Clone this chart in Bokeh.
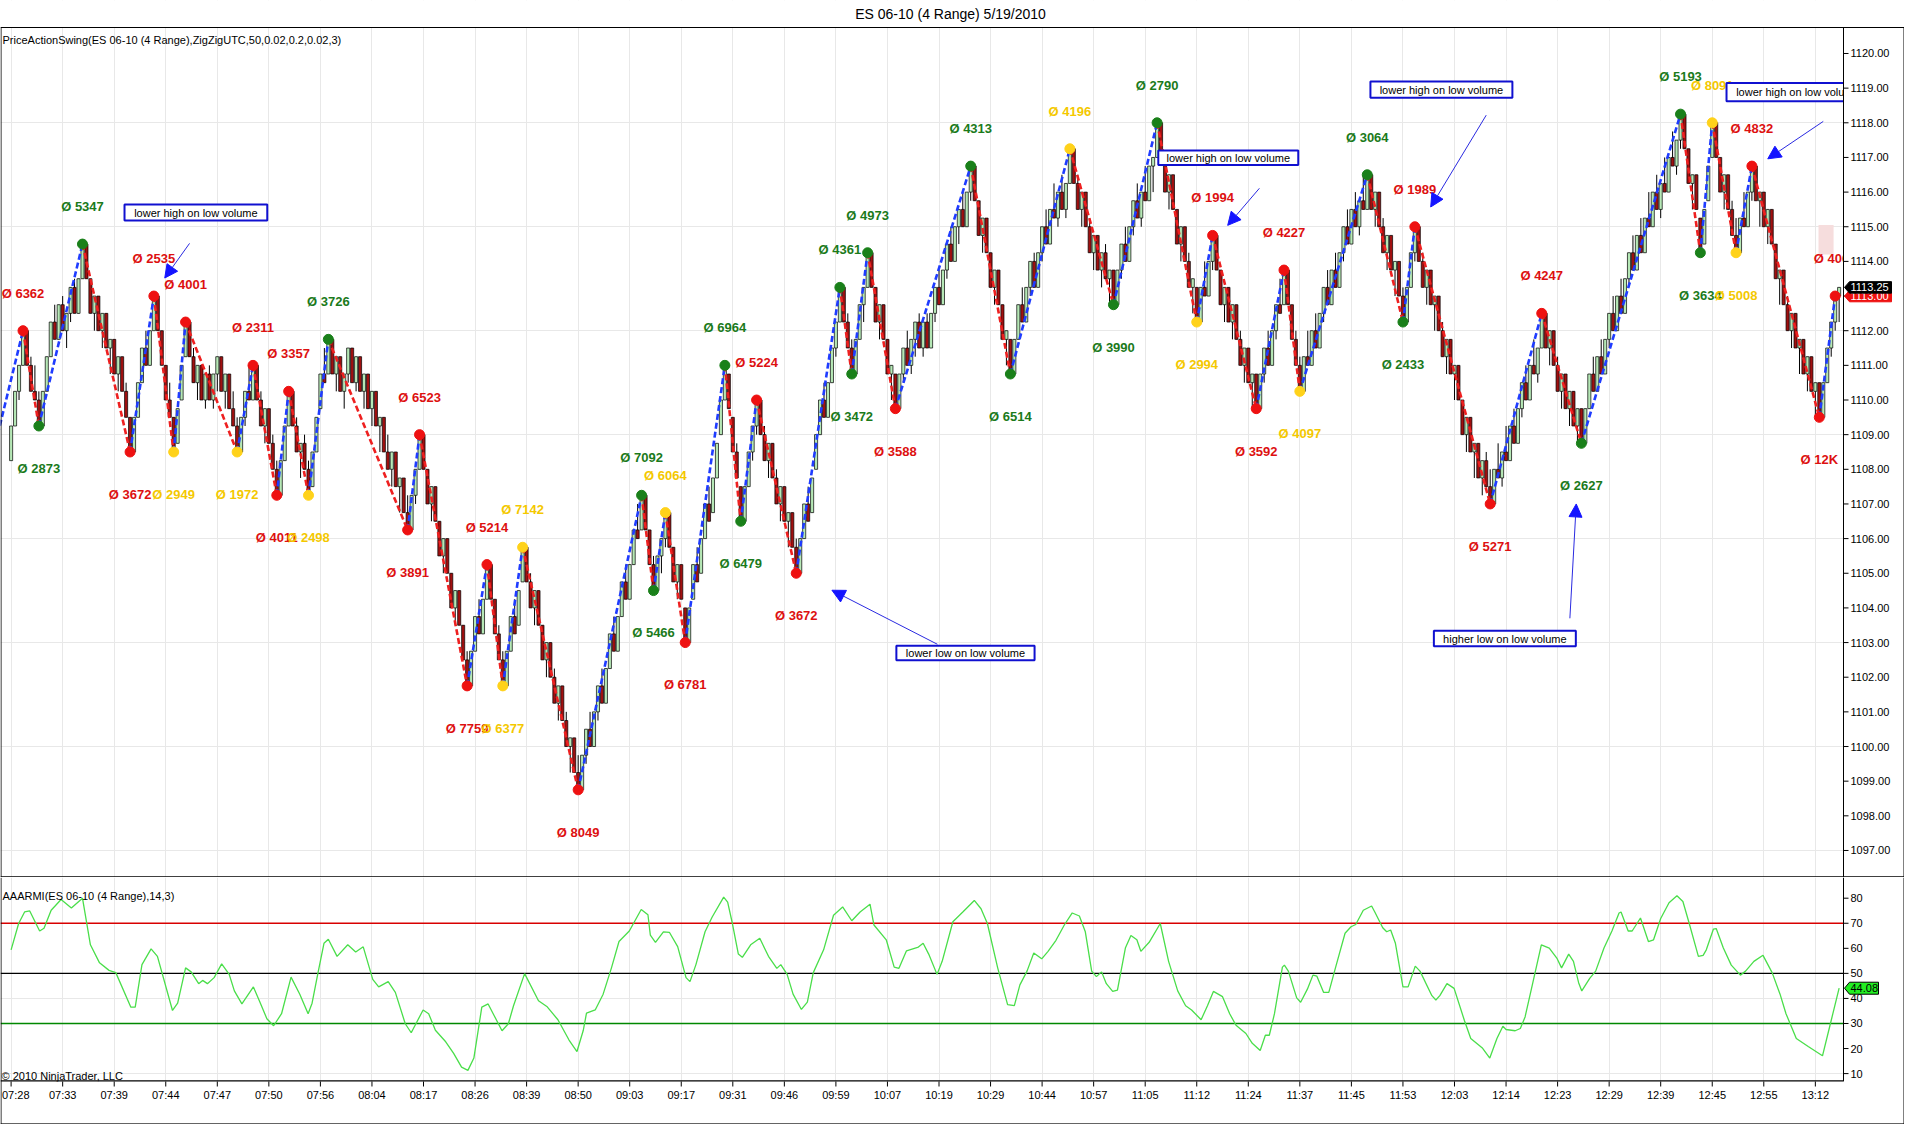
from bokeh.plotting import figure
from bokeh.layouts import column
from bokeh.models import (Range1d, FixedTicker, Grid, Arrow, NormalHead, ColumnDataSource)
from bokeh.core.properties import value
from bokeh.embed import file_html
from bokeh.resources import INLINE

FONT = "Liberation Sans"

# ---------------- data ----------------
TITLE = "ES 06-10 (4 Range)  5/19/2010"
PRICE_STUDY = "PriceActionSwing(ES 06-10 (4 Range),ZigZigUTC,50,0.02,0.2,0.02,3)"
RSI_STUDY = "AAARMI(ES 06-10 (4 Range),14,3)"
COPYRIGHT = "\u00a9 2010 NinjaTrader, LLC"

time_labels = ["07:28", "07:33", "07:39", "07:44", "07:47", "07:50", "07:56", "08:04",
               "08:17", "08:26", "08:39", "08:50", "09:03", "09:17", "09:31", "09:46",
               "09:59", "10:07", "10:19", "10:29", "10:44", "10:57", "11:05", "11:12",
               "11:24", "11:37", "11:45", "11:53", "12:03", "12:14", "12:23", "12:29",
               "12:39", "12:45", "12:55", "13:12"]
bars_per_label = 13

bar_range = 1.0          # 4 ticks of 0.25
first_open = 1108.25
bar_close = [
    1109.25, 1110.25, 1111.0, 1112.0,
    1111.0, 1110.25, 1110.0, 1109.25,
    1110.25, 1111.25, 1112.25, 1111.75, 1112.75, 1112.0, 1112.5, 1113.25, 1112.5, 1113.5, 1114.5,
    1113.5, 1112.5, 1113.0, 1112.0, 1112.5, 1111.5, 1111.75, 1110.75, 1111.25, 1110.25, 1109.5, 1108.5,
    1109.5, 1110.5, 1111.5, 1111.0, 1112.0, 1113.0,
    1112.0, 1111.0, 1110.0, 1109.5, 1108.5,
    1109.75, 1111.0, 1112.25,
    1111.25, 1110.5, 1111.0, 1110.0, 1110.75, 1110.0, 1110.75, 1111.25, 1110.25, 1110.75, 1109.75, 1109.25, 1108.5,
    1109.5, 1110.25, 1110.0, 1111.0,
    1110.0, 1109.25, 1109.75, 1108.75, 1108.0, 1107.25,
    1108.25, 1109.25, 1110.25,
    1109.25, 1108.5, 1108.75, 1108.0, 1107.25,
    1108.5, 1109.5, 1110.75, 1110.5, 1111.75,
    1110.75, 1111.25, 1110.25, 1110.75, 1111.5, 1110.5, 1111.25, 1110.25, 1110.75, 1109.75,
    1110.25, 1109.25, 1109.5, 1108.5, 1108.0, 1108.5, 1107.5, 1107.75, 1106.75, 1106.25,
    1107.25, 1108.0, 1109.0,
    1108.0, 1107.0, 1107.5, 1106.5, 1105.5, 1106.0, 1105.0, 1104.0, 1104.5, 1103.5, 1102.5, 1101.75,
    1102.75, 1103.75, 1103.25, 1104.25, 1105.25,
    1104.25, 1103.25, 1102.5, 1101.75,
    1102.75, 1103.75, 1103.25, 1104.5, 1105.75,
    1104.75, 1104.0, 1104.5, 1103.5, 1102.5, 1103.0, 1102.0, 1101.25, 1101.75, 1100.75, 1100.0, 1100.25, 1099.25, 1098.75,
    1099.75, 1100.5, 1100.0, 1101.0, 1101.75, 1101.25, 1102.25, 1103.25, 1102.75, 1103.75, 1104.75, 1104.25, 1105.25, 1106.25, 1106.0, 1107.25,
    1106.25, 1105.25, 1104.5,
    1105.5, 1106.0, 1106.75,
    1105.75, 1104.75, 1105.25, 1104.25, 1103.0,
    1104.0, 1105.25, 1104.75, 1106.0, 1107.0, 1106.5, 1107.75, 1108.75, 1110.0, 1111.0,
    1109.75, 1108.5, 1107.75, 1106.5,
    1107.5, 1108.5, 1109.25, 1110.0,
    1109.0, 1108.25, 1108.75, 1107.75, 1107.0, 1107.5, 1106.5, 1106.75, 1105.75, 1105.0,
    1106.0, 1107.0, 1106.5, 1107.75, 1109.0, 1110.0, 1109.5, 1110.5, 1111.5, 1112.25, 1113.25,
    1112.25, 1111.5, 1110.75,
    1111.75, 1112.75, 1113.25, 1114.25,
    1113.25, 1112.25, 1112.75, 1111.75, 1110.75, 1111.0, 1109.75,
    1110.75, 1111.5, 1111.0, 1111.75, 1112.25, 1111.5, 1112.25, 1111.5, 1112.5, 1113.25,
    1112.75, 1113.75, 1114.5, 1114.0, 1115.0, 1115.5, 1115.0, 1116.0, 1116.75,
    1115.75, 1114.75, 1115.25, 1114.25, 1113.25, 1113.75, 1112.75, 1111.75, 1112.0, 1110.75,
    1111.75, 1112.75, 1112.25, 1113.25, 1114.0, 1113.25, 1114.25, 1115.0, 1114.5, 1115.5,
    1115.25, 1116.0, 1115.5, 1116.25, 1117.25,
    1116.25, 1115.5, 1116.0, 1115.0, 1114.25, 1114.75, 1113.75, 1114.25, 1113.5, 1113.75, 1112.75,
    1113.75, 1114.5, 1114.0, 1115.0, 1115.75, 1115.25, 1116.0, 1115.75, 1116.75, 1117.0, 1118.0,
    1117.0, 1116.0, 1116.5, 1115.5, 1114.5, 1115.0, 1114.0, 1113.25, 1113.5, 1112.25,
    1113.25, 1113.0, 1114.0, 1114.75,
    1113.75, 1112.75, 1113.25, 1112.25, 1112.75, 1111.75, 1111.0, 1111.5, 1110.5, 1110.75, 1109.75,
    1110.75, 1111.5, 1111.0, 1112.0, 1112.75, 1112.5, 1113.75,
    1112.75, 1111.75, 1111.0, 1110.25,
    1111.25, 1111.0, 1112.0, 1111.5, 1112.5, 1113.25, 1112.75, 1113.75, 1113.25, 1114.25,
    1115.0, 1114.5, 1115.5, 1115.0, 1115.75, 1115.5, 1116.5,
    1115.5, 1116.0, 1115.0, 1114.25, 1114.75, 1113.75, 1114.0, 1113.0, 1112.25,
    1113.25, 1114.25, 1115.0,
    1114.0, 1113.25, 1113.75, 1112.75, 1113.0, 1112.0, 1111.25, 1111.75, 1110.75, 1111.0,
    1110.0, 1109.0, 1109.5, 1108.5, 1108.75, 1107.75, 1108.25, 1107.5, 1107.0,
    1108.0, 1107.75, 1108.5, 1108.25, 1109.25, 1108.75, 1109.75, 1110.5, 1110.0, 1111.0,
    1110.75, 1111.5, 1112.5,
    1111.5, 1112.0, 1111.0, 1110.25, 1110.75, 1109.75, 1110.25, 1109.25, 1109.75, 1108.75,
    1109.75, 1110.75, 1110.25, 1111.25, 1110.75, 1111.75, 1112.5, 1112.0, 1113.0, 1112.5,
    1113.5, 1114.25, 1113.75, 1114.75, 1114.25, 1115.25, 1115.0, 1116.0, 1115.5, 1116.25,
    1116.0, 1117.0, 1116.75, 1117.5, 1118.25,
    1117.25, 1116.25, 1116.5, 1115.5, 1114.25,
    1115.5, 1116.75, 1118.0,
    1117.0, 1116.0, 1116.5, 1115.5, 1114.75, 1114.25,
    1115.25, 1115.0, 1116.0, 1116.75,
    1115.75, 1116.0, 1115.0, 1115.5, 1114.5, 1113.5, 1113.75, 1112.75, 1112.0, 1112.5,
    1111.5, 1111.75, 1110.75, 1111.25, 1110.25, 1110.5, 1109.5,
    1110.5, 1111.5, 1112.25, 1113.0, 1113.25,
]

swing_bar = [-5, 3, 7, 18, 30, 36, 41, 44, 57, 61, 67, 70, 75, 80, 100, 103, 115, 120, 124,
             129, 143, 159, 162, 165, 170, 180, 184, 188, 198, 209, 212, 216, 223, 242, 252,
             267, 278, 289, 299, 303, 314, 321, 325, 342, 351, 354, 373, 386, 396, 421, 426,
             429, 435, 439, 456, 460]
swing_price = [1108.25, 1112.0, 1109.25, 1114.5, 1108.5, 1113.0, 1108.5, 1112.25, 1108.5,
               1111.0, 1107.25, 1110.25, 1107.25, 1111.75, 1106.25, 1109.0, 1101.75, 1105.25,
               1101.75, 1105.75, 1098.75, 1107.25, 1104.5, 1106.75, 1103.0, 1111.0, 1106.5,
               1110.0, 1105.0, 1113.25, 1110.75, 1114.25, 1109.75, 1116.75, 1110.75, 1117.25,
               1112.75, 1118.0, 1112.25, 1114.75, 1109.75, 1113.75, 1110.25, 1116.5, 1112.25,
               1115.0, 1107.0, 1112.5, 1108.75, 1118.25, 1114.25, 1118.0, 1114.25, 1116.75,
               1109.5, 1113.0]
swing_kind = list("R" + "RGGRRYRYRR" + "RYGRRRRYYR" + "GGYRGGRRGG" + "GRGGYGGYRR"
                  + "RYGGRRRGGG" + "YYRRR")
swing_text = ["", "Ø 6362", "Ø 2873", "Ø 5347", "Ø 3672", "Ø 2535", "Ø 2949", "Ø 4001",
              "Ø 1972", "Ø 2311", "Ø 4011", "Ø 3357", "Ø 2498", "Ø 3726", "Ø 3891", "Ø 6523",
              "Ø 7759", "Ø 5214", "Ø 6377", "Ø 7142", "Ø 8049", "Ø 7092", "Ø 5466", "Ø 6064",
              "Ø 6781", "Ø 6964", "Ø 6479", "Ø 5224", "Ø 3672", "Ø 4361", "Ø 3472", "Ø 4973",
              "Ø 3588", "Ø 4313", "Ø 6514", "Ø 4196", "Ø 3990", "Ø 2790", "Ø 2994", "Ø 1994",
              "Ø 3592", "Ø 4227", "Ø 4097", "Ø 3064", "Ø 2433", "Ø 1989", "Ø 5271", "Ø 4247",
              "Ø 2627", "Ø 5193", "Ø 3634", "Ø 8091", "Ø 5008", "Ø 4832", "Ø 12K", "Ø 4062"]

rsi_bar = [0, 1.9, 3.4, 4.7, 7.2, 8.3, 10.1, 12.6, 15.2, 18.0, 20.0, 22.3, 24.7, 26.4, 30.2,
           31.3, 33.0, 35.3, 36.9, 40.7, 42.0, 44.0, 45.4, 47.3, 48.3, 49.5, 51.2, 53.1, 55.0,
           56.3, 58.2, 61.1, 62.6, 64.5, 66.2, 68.2, 70.6, 72.8, 74.9, 75.9, 77.4, 78.9, 80.0,
           82.2, 84.9, 86.9, 88.8, 91.2, 92.7, 95.1, 96.9, 99.4, 100.9, 103.9, 105.3, 107.0,
           109.6, 111.6, 113.6, 115.2, 116.7, 118.7, 120.3, 121.8, 123.8, 125.4, 126.7, 129.5,
           133.0, 135.1, 137.9, 140.7, 142.7, 144.3, 145.1, 147.3, 149.3, 151.4,
           153.3, 155.9, 157.4, 158.9, 160.6, 161.2, 162.5, 164.5, 166.0, 168.1, 170.2, 171.2,
           172.7, 175.0, 176.8, 179.7, 180.7, 181.9, 183.4, 184.4, 186.5, 188.8, 191.0, 193.1,
           194.1, 195.7, 197.2, 199.3, 200.8, 202.3, 204.9, 207.4, 209.7, 212.0, 214.1, 216.6,
           217.6, 220.7, 222.7, 223.9, 225.8, 228.8, 230.0, 231.4, 233.5, 234.8, 237.5, 240.0,
           242.9, 244.6, 246.2, 248.8, 251.3, 253.0, 254.4, 256.2, 257.9, 259.9, 261.5, 263.5,
           265.6, 267.6, 269.4, 270.9, 272.5, 273.7, 275.0, 276.2, 277.8, 279.0, 281.0, 282.4,
           283.9, 284.9, 287.0, 289.8, 291.9, 294.2, 296.2, 297.7, 300.1, 301.7, 303.2, 305.5,
           307.3, 308.9, 311.4, 313.0, 315.0, 316.3, 317.3, 318.6, 320.6, 321.1, 322.1, 324.2,
           325.2, 326.9, 328.3, 329.3, 331.0, 332.3, 334.1, 336.4, 337.9, 339.1, 341.0, 343.1,
           343.9, 345.9, 346.9, 347.9, 349.1, 351.0, 352.3, 354.1, 355.3, 358.3, 359.3, 360.3,
           362.1, 363.9, 366.5, 368.1, 371.1, 372.9, 374.7, 376.2, 377.0, 379.3, 380.6, 381.8,
           383.7, 385.9, 387.9, 389.8, 391.0, 392.8, 394.0, 395.3, 396.1, 398.1, 399.6, 401.7,
           403.7, 405.5, 406.0, 407.8, 408.8, 410.9, 412.9, 414.2, 416.0, 418.1, 420.1, 421.6,
           423.2, 424.7, 425.5, 426.7, 427.5, 429.3, 430.0, 431.8, 433.8, 436.1, 437.4, 439.5,
           441.8, 444.1, 446.1, 447.6, 450.2, 453.2, 456.8, 458.9, 461.0]
rsi_val = [59.4, 69.9, 74.5, 74.9, 66.9, 68.0, 75.2, 79.5, 76.1, 80.0, 61.4, 54.2, 51.2, 50.3,
           36.5, 36.5, 53.5, 59.8, 56.8, 35.2, 38.1, 52.2, 50.6, 45.9, 47.2, 45.9, 48.3, 53.8,
           49.6, 43.0, 37.8, 44.6, 39.1, 31.9, 29.1, 33.9, 48.5, 41.7, 33.9, 38.1, 50.3, 62.0,
           63.6, 56.8, 61.4, 58.5, 60.6, 47.6, 44.6, 46.7, 42.4, 29.9, 26.3, 35.4, 33.9, 27.3,
           22.7, 18.1, 12.6, 11.3, 16.2, 36.5, 37.8, 33.2, 27.1, 29.9, 37.1, 49.9, 39.1, 36.8,
           31.5, 23.4, 18.8, 27.3, 34.1, 35.4, 41.7, 52.2,
           62.7, 66.9, 71.2, 75.5, 73.4, 65.3, 62.4, 66.6, 66.4, 60.7, 48.3, 46.7, 53.5, 66.6,
           72.5, 80.4, 78.4, 69.9, 57.7, 56.4, 61.4, 64.0, 56.8, 52.0, 53.5, 49.6, 41.7, 35.6,
           38.5, 50.3, 59.4, 73.2, 76.5, 71.0, 74.5, 77.6, 69.3, 63.4, 52.5, 52.0, 59.0, 60.5,
           62.0, 57.7, 49.6, 54.8, 70.6, 74.5, 79.1, 75.8, 69.9, 52.2, 37.5, 37.1, 45.4, 50.9,
           58.1, 55.8, 58.8, 63.2, 69.3, 74.1, 72.9, 66.6, 50.9, 48.7, 50.6, 45.9, 42.8, 43.3,
           60.1, 65.1, 63.4, 58.8, 62.4, 69.9, 54.8, 43.0, 37.1, 35.4, 31.5, 37.1, 42.8, 40.7,
           33.9, 29.3, 26.0, 22.1, 19.2, 25.3, 25.3, 33.9, 52.5, 53.3, 50.9, 40.2, 38.5, 43.7,
           49.3, 48.9, 42.4, 42.4, 52.9, 66.0, 68.6, 69.5, 75.2, 76.9, 74.5, 68.2, 66.6, 67.3,
           62.0, 44.6, 44.6, 52.9, 50.9, 41.1, 39.4, 41.1, 45.9, 44.0, 31.2, 24.0, 20.1, 16.2,
           24.0, 28.9, 27.6, 27.1, 28.0, 32.6, 45.9, 61.4, 60.1, 56.1, 52.2, 57.7, 54.8, 46.3,
           43.0, 48.0, 50.9, 60.1, 66.9, 74.1, 74.5, 66.9, 66.9, 72.1, 62.7, 63.4, 71.9, 78.2,
           81.0, 78.7, 69.9, 61.4, 56.8, 57.2, 59.4, 67.7, 67.9, 60.1, 53.3, 49.3, 50.9, 54.8,
           57.2, 50.3, 41.7, 33.9, 24.0, 20.8, 17.1, 30.6, 44.08]

last_price = 1113.25
last_swing_price = 1113.00
last_rsi = 44.08
price_ticks = list(range(1097, 1121))
rsi_ticks = [10, 20, 30, 40, 50, 60, 70, 80]
rsi_levels = [70, 50, 30]

# ---------------- layout constants ----------------
W = 1904
RIGHT = 61
TOP = 27
P_FRAME_H = 850
R_FRAME_H = 204
BOTTOM = 43
FRAME_W = W - RIGHT
X0, X1 = -2.675, 462.1
PY0, PY1 = 1096.22, 1120.75
RY0, RY1 = 6.85, 88.26
bx = (X1 - X0) / FRAME_W          # bars per pixel
py = (PY1 - PY0) / P_FRAME_H      # price per pixel
ry = (RY1 - RY0) / R_FRAME_H      # rsi per pixel
XR = X0 + W * bx                  # right edge of canvas in bar units
PYT = PY1 + TOP * py              # top of canvas in price units
RYB = RY0 - BOTTOM * ry           # bottom of canvas in rsi units

DOT = {"G": "#1a801a", "R": "#ee1111", "Y": "#ffd21a"}
TXT = {"G": "#1b7a1b", "R": "#dd1010", "Y": "#f4c800"}
GRID = "#e8e8e8"
NOTE_BLUE = "#1010d0"

xr = Range1d(X0, XR)


def set_grid(fig, dim, ticks):
    grids = fig.xgrid if dim == 0 else fig.ygrid
    if len(grids):
        grids.ticker = FixedTicker(ticks=ticks)
        grids.grid_line_color = GRID
    else:
        fig.add_layout(Grid(dimension=dim, ticker=FixedTicker(ticks=ticks), grid_line_color=GRID))


def right_axis(fig, y0, y1, ticks, fmt):
    # white cover for the axis strip, axis line, ticks and labels
    fig.quad(left=[X1], right=[XR], bottom=[y0], top=[y1], fill_color="white", line_color=None)
    fig.segment(x0=[X1], y0=[y0], x1=[X1], y1=[y1], line_color="black", line_width=1)
    fig.segment(x0=[X1] * len(ticks), y0=ticks, x1=[X1 + 5 * bx] * len(ticks), y1=ticks,
                line_color="black", line_width=1)
    fig.text([X1 + 7 * bx] * len(ticks), ticks, text=[fmt % t for t in ticks],
             text_color="black", text_font=value(FONT), text_font_size="11px",
             text_align="left", text_baseline="middle")


def borders(fig, y0, y1):
    fig.segment(x0=[XR - 0.5 * bx, X0 + 0.5 * bx], y0=[y0, y0], x1=[XR - 0.5 * bx, X0 + 0.5 * bx],
                y1=[y1, y1], line_color="black", line_width=1)


def marker(fig, y, text, w_px, h_px, unit, fill, line, tcolor):
    h = h_px * unit / 2
    xs = [X1 + 1 * bx, X1 + 6 * bx, X1 + w_px * bx, X1 + w_px * bx, X1 + 6 * bx]
    ys = [y, y + h, y + h, y - h, y - h]
    fig.patches(xs=[xs], ys=[ys], fill_color=fill, line_color=line, line_width=1)
    fig.text([X1 + 7 * bx], [y], text=[text], text_color=tcolor, text_font=value(FONT),
             text_font_size="11px", text_align="left", text_baseline="middle")


# ---------------- price panel ----------------
p1 = figure(width=W, height=TOP + P_FRAME_H, x_range=xr, y_range=Range1d(PY0, PYT),
            output_backend="svg", toolbar_location=None, x_axis_location=None,
            y_axis_location=None, min_border_left=0, min_border_right=0,
            min_border_top=0, min_border_bottom=0)
p1.outline_line_color = None
p1.background_fill_color = "white"
p1.border_fill_color = "white"
xt = [bars_per_label * k for k in range(len(time_labels))]
set_grid(p1, 0, xt)
set_grid(p1, 1, price_ticks[::3])

# pink zone near the last bar
p1.quad(left=[455.8], right=[459.6], bottom=[1114.2], top=[1115.05],
        fill_color="#f6dddd", line_color=None)

# range-bar candles from closes
bx_i, o_l, h_l, l_l, c_l, col = [], [], [], [], [], []
prev = first_open
for i, c in enumerate(bar_close):
    if c > prev:
        hi, lo, colr = c, c - bar_range, "#b6e8b6"
    else:
        hi, lo, colr = c + bar_range, c, "#a01010"
    o = min(max(prev, lo), hi)
    bx_i.append(i); o_l.append(o); h_l.append(hi); l_l.append(lo); c_l.append(c); col.append(colr)
    prev = c
src = ColumnDataSource(dict(x=bx_i, h=h_l, l=l_l,
                            top=[max(a, b) for a, b in zip(o_l, c_l)],
                            bottom=[min(a, b) for a, b in zip(o_l, c_l)], color=col))
p1.segment(x0="x", y0="l", x1="x", y1="h", source=src, line_color="black", line_width=1)
p1.vbar(x="x", width=0.78, top="top", bottom="bottom", fill_color="color",
        line_color="black", line_width=0.7, source=src)

# zigzag
zx0, zy0, zx1, zy1, zc = [], [], [], [], []
for i in range(len(swing_bar) - 1):
    zx0.append(swing_bar[i]); zy0.append(swing_price[i])
    zx1.append(swing_bar[i + 1]); zy1.append(swing_price[i + 1])
    zc.append("#1f3cff" if swing_price[i + 1] > swing_price[i] else "#ee2020")
p1.segment(x0=zx0, y0=zy0, x1=zx1, y1=zy1, line_color=zc, line_width=2.6, line_dash="6 3")

# swing dots and labels
p1.scatter(swing_bar[1:], swing_price[1:], size=10,
           fill_color=[DOT[k] for k in swing_kind[1:]],
           line_color=[DOT[k] for k in swing_kind[1:]])
lx, ly, lt, lc = [], [], [], []
for i in range(1, len(swing_bar)):
    is_high = swing_price[i] > swing_price[i - 1]
    lx.append(swing_bar[i])
    ly.append(swing_price[i] + (37.5 * py if is_high else -42.4 * py))
    lt.append(swing_text[i])
    lc.append(TXT[swing_kind[i]])
p1.text(lx, ly, text=lt, text_color=lc, text_font=value(FONT), text_font_style="bold",
        text_font_size="13px", text_align="center", text_baseline="middle")

# notes with arrows
notes = [
    (28.6, 64.6, 1115.18, 1115.64, "lower high on low volume"),
    (289.3, 324.6, 1116.78, 1117.20, "lower high on low volume"),
    (342.8, 378.6, 1118.72, 1119.19, "lower high on low volume"),
    (432.6, 468.6, 1118.62, 1119.15, "lower high on low volume"),
    (223.25, 258.1, 1102.49, 1102.91, "lower low on low volume"),
    (358.8, 394.6, 1102.89, 1103.34, "higher low on low volume"),
]
p1.quad(left=[n[0] for n in notes], right=[n[1] for n in notes],
        bottom=[n[2] for n in notes], top=[n[3] for n in notes],
        fill_color="white", line_color=NOTE_BLUE, line_width=2)
p1.text([(n[0] + n[1]) / 2 for n in notes], [(n[2] + n[3]) / 2 for n in notes],
        text=[n[4] for n in notes], text_color="black", text_font=value(FONT),
        text_font_size="11px", text_align="center", text_baseline="middle")
arrows = [
    (45.0, 1114.52, 38.75, 1113.52),
    (314.8, 1116.11, 306.8, 1115.04),
    (372.0, 1118.22, 358.0, 1115.57),
    (457.0, 1118.04, 443.0, 1116.96),
    (233.6, 1102.95, 207.0, 1104.51),
    (393.1, 1103.70, 394.7, 1107.00),
]
for a in arrows:
    p1.add_layout(Arrow(x_start=a[0], y_start=a[1], x_end=a[2], y_end=a[3],
                        line_color="#2a2ae0", line_width=1,
                        end=NormalHead(size=13, fill_color="#1414ff", line_color="#1414ff")))

# title strip above the price frame
p1.quad(left=[X0], right=[XR], bottom=[PY1], top=[PYT], fill_color="white", line_color=None)
p1.text([X0 + 952 * bx], [PY1 + 13.8 * py], text=[TITLE], text_color="black",
        text_font=value(FONT), text_font_size="14px", text_align="center",
        text_baseline="middle")
p1.text([X0 + 2 * bx], [PY1 - 12 * py], text=[PRICE_STUDY], text_color="black",
        text_font=value(FONT), text_font_size="11px", text_align="left",
        text_baseline="middle")

right_axis(p1, PY0, PY1, price_ticks, "%.2f")
borders(p1, PY0, PY1)
# frame top line and panel separator
p1.segment(x0=[X0, X0], y0=[PY1, PY0 + 0.6 * py], x1=[XR, XR], y1=[PY1, PY0 + 0.6 * py],
           line_color="black", line_width=1.2)
marker(p1, last_swing_price, "%.2f" % last_swing_price, 48, 11.5, py, "#ee1111", "#ee1111", "white")
marker(p1, last_price, "%.2f" % last_price, 48, 11.5, py, "black", "black", "white")

# ---------------- RSI panel (with time axis strip) ----------------
p2 = figure(width=W, height=R_FRAME_H + BOTTOM, x_range=xr, y_range=Range1d(RYB, RY1),
            output_backend="svg", toolbar_location=None, y_axis_location=None,
            x_axis_location=None, min_border_left=0, min_border_right=0, min_border_top=0,
            min_border_bottom=0)
p2.outline_line_color = None
p2.background_fill_color = "white"
p2.border_fill_color = "white"
set_grid(p2, 0, xt)
set_grid(p2, 1, [10, 40, 70])

p2.segment(x0=[X0] * 3, y0=rsi_levels, x1=[X1] * 3, y1=rsi_levels,
           line_color=["#d80000", "black", "#008800"], line_width=1.3)
p2.line(rsi_bar, rsi_val, line_color="#4ade4a", line_width=1.3)
p2.text([X0 + 2 * bx], [RY1 - 18.7 * ry], text=[RSI_STUDY], text_color="black",
        text_font=value(FONT), text_font_size="11px", text_align="left",
        text_baseline="middle")
p2.text([X0 + 1 * bx], [RY1 - 198 * ry], text=[COPYRIGHT], text_color="black",
        text_font=value(FONT), text_font_size="11px", text_align="left",
        text_baseline="middle")
right_axis(p2, RY0, RY1, rsi_ticks, "%d")

# time axis strip
p2.quad(left=[X0], right=[XR], bottom=[RYB], top=[RY0], fill_color="white", line_color=None)
p2.segment(x0=[X0], y0=[RY0 + 0.6 * ry], x1=[X1], y1=[RY0 + 0.6 * ry],
           line_color="black", line_width=1.2)
p2.segment(x0=xt, y0=[RY0] * len(xt), x1=xt, y1=[RY0 - 5 * ry] * len(xt),
           line_color="black", line_width=1)
# first label sits at the very left edge: keep it inside the canvas
p2.text([X0 + 1.5 * bx], [RY0 - 13 * ry], text=time_labels[:1], text_color="black",
        text_font=value(FONT), text_font_size="11px", text_align="left",
        text_baseline="middle")
p2.text(xt[1:], [RY0 - 13 * ry] * (len(xt) - 1), text=time_labels[1:], text_color="black",
        text_font=value(FONT), text_font_size="11px", text_align="center",
        text_baseline="middle")
borders(p2, RYB, RY1)
p2.segment(x0=[X0], y0=[RYB + 0.6 * ry], x1=[XR], y1=[RYB + 0.6 * ry],
           line_color="black", line_width=1)
marker(p2, last_rsi, "%.2f" % last_rsi, 35, 12, ry, "#22ee22", "black", "black")

layout = column(p1, p2, spacing=0)
open("out.html", "w").write(file_html(layout, INLINE))
